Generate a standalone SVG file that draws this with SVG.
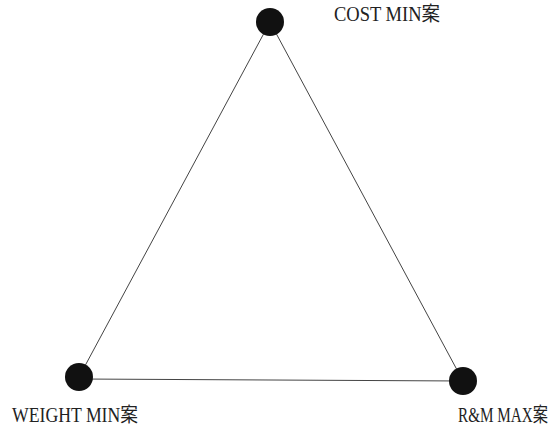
<svg xmlns="http://www.w3.org/2000/svg" width="556" height="430" viewBox="0 0 556 430">
<style>
.edge{stroke:#444;stroke-width:1;fill:none}
.dot{fill:#111}
.lbl{font-family:"Liberation Serif","Noto Sans CJK JP",serif;font-size:20px;fill:#222}
</style>
<rect width="556" height="430" fill="#fff"/>
<g id="connectors">
<line class="edge" x1="270" y1="22" x2="79" y2="377"/>
<line class="edge" x1="270" y1="22" x2="463" y2="381"/>
<line class="edge" x1="79" y1="379" x2="463" y2="381"/>
</g>
<g id="cost">
<circle class="dot" cx="270" cy="22" r="14"/>
<text class="lbl" x="334" y="21" textLength="106" lengthAdjust="spacingAndGlyphs">COST MIN案</text>
</g>
<g id="weight">
<circle class="dot" cx="79" cy="377" r="14"/>
<text class="lbl" x="12" y="422" textLength="126" lengthAdjust="spacingAndGlyphs">WEIGHT MIN案</text>
</g>
<g id="rm">
<circle class="dot" cx="463" cy="381" r="14"/>
<text class="lbl" x="548" y="422" text-anchor="end" textLength="90" lengthAdjust="spacingAndGlyphs">R&amp;M MAX案</text>
</g>
</svg>
